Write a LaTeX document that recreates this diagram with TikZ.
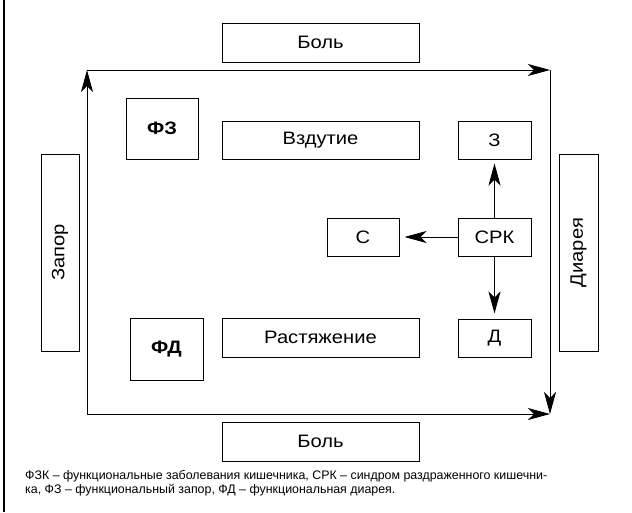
\documentclass[tikz,border=0pt]{standalone}
\usepackage{fontspec}
\setmainfont{Liberation Sans}
\newfontfamily\shirfont[FakeStretch=1.12]{Liberation Sans}
\usetikzlibrary{arrows.meta}

\tikzset{
  blok/.style={draw,line width=1pt,inner sep=0pt,font=\shirfont\fontsize{18}{20}\selectfont},
  strel/.style={line width=0.9pt,-{Stealth[length=22pt,width=12pt,inset=6pt]}}
}

\begin{document}
\begin{tikzpicture}[x=1pt,y=-1pt]
\useasboundingbox (0,0) rectangle (632,512);
\draw[line width=2pt] (4,0) -- (4,512);

\node (bolverh) at (320.5,42.5) [blok,minimum width=197pt,minimum height=39pt] {Боль};
\node (bolniz) at (320.5,441.5) [blok,minimum width=197pt,minimum height=39pt] {Боль};
\node (vzdutie) at (320.5,140) [blok,minimum width=197pt,minimum height=38pt] {Вздутие};
\node (rastyazh) at (320.5,337.5) [blok,minimum width=197pt,minimum height=39pt] {Растяжение};
\node (fz) at (162,128.5) [blok,minimum width=72pt,minimum height=61pt,font=\shirfont\fontsize{18}{20}\selectfont\bfseries] {ФЗ};
\node (fd) at (166.5,349) [blok,minimum width=73pt,minimum height=62pt,font=\shirfont\fontsize{18}{20}\selectfont\bfseries] {ФД};
\node (zapor) at (60,252.5) [blok,rotate=90,minimum width=197pt,minimum height=38pt] {Запор};
\node (diareya) at (578.5,252.5) [blok,rotate=90,minimum width=197pt,minimum height=39pt] {Диарея};
	\foreach \y/\t/\n in {140/З/z,237/СРК/srk,338/Д/d} {
		\node (\n) at (494.5,\y) [blok,minimum width=73pt,minimum height=38pt] {\t};
		}
\node (s) at (363,237) [blok,minimum width=72pt,minimum height=38pt] {С};

\draw[strel,shorten >=4pt] (srk) -- (z);
\draw[strel,shorten >=5pt] (srk) -- (s);
\draw[strel,shorten >=5pt] (srk) -- (d);

% contour of arrows
\coordinate (nl) at (87,414);
\coordinate (vl) at (87,70);
\coordinate (vp) at (550,70);
\coordinate (np) at (550,414);
\draw[strel] (nl) -- (vl);
\draw[strel] (vl) -- (vp);
\draw[strel] (vp) -- (np);
\draw[strel] (nl) -- (np);

\node (primech) at (25,470) [anchor=north west,align=left,inner sep=0pt,font=\fontsize{12.4}{14.5}\selectfont]
  {ФЗК – функциональные заболевания кишечника, СРК – синдром раздраженного кишечни-\\ка, ФЗ – функциональный запор, ФД – функциональная диарея.};
\end{tikzpicture}
\end{document}
